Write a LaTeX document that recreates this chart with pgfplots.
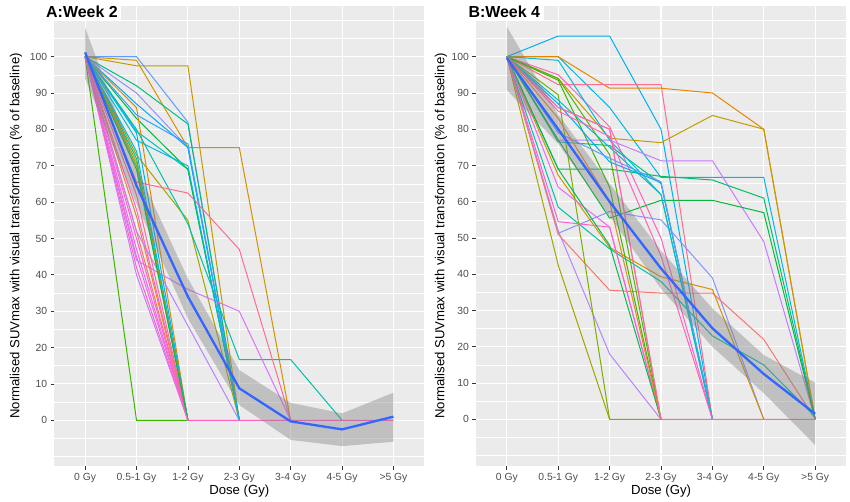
\documentclass[border=0pt]{standalone}
\usepackage{fontspec}
\setmainfont{Liberation Sans}
\usepackage{pgfplots}
\pgfplotsset{compat=1.18}
\definecolor{bgg}{HTML}{EBEBEB}
\definecolor{tickc}{HTML}{333333}
\definecolor{labc}{HTML}{4D4D4D}
\definecolor{smo}{HTML}{3366FF}
\definecolor{cA}{HTML}{F8766D}
\definecolor{cB}{HTML}{E58700}
\definecolor{cB2}{HTML}{EA8331}
\definecolor{cC}{HTML}{C49A00}
\definecolor{cC2}{HTML}{D39200}
\definecolor{cD}{HTML}{A3A500}
\definecolor{cD2}{HTML}{AEA200}
\definecolor{cE}{HTML}{7CAE00}
\definecolor{cE2}{HTML}{53B400}
\definecolor{cF}{HTML}{39B600}
\definecolor{cG}{HTML}{00BA38}
\definecolor{cG2}{HTML}{00BB4E}
\definecolor{cH}{HTML}{00BE67}
\definecolor{cI}{HTML}{00BF7D}
\definecolor{cJ}{HTML}{00C08B}
\definecolor{cK}{HTML}{00C1A3}
\definecolor{cL}{HTML}{00BFC4}
\definecolor{cM}{HTML}{00BCD8}
\definecolor{cN}{HTML}{00B8E7}
\definecolor{cO}{HTML}{00B0F6}
\definecolor{cP}{HTML}{00A9FF}
\definecolor{cP2}{HTML}{35A2FF}
\definecolor{cQ}{HTML}{619CFF}
\definecolor{cR}{HTML}{8494FF}
\definecolor{cR2}{HTML}{9590FF}
\definecolor{cS}{HTML}{B983FF}
\definecolor{cT}{HTML}{C77CFF}
\definecolor{cU}{HTML}{DB72FB}
\definecolor{cV}{HTML}{E76BF3}
\definecolor{cW}{HTML}{F564E3}
\definecolor{cX}{HTML}{FD61D1}
\definecolor{cY}{HTML}{FF61C3}
\definecolor{cY2}{HTML}{FF62BC}
\definecolor{cZ}{HTML}{FF6A98}
\definecolor{cZ2}{HTML}{FF6C91}
\pgfplotsset{
  spag/.style={line width=1bp},
  panel/.style={
    scale only axis, width=370bp, height=460.3bp, anchor=south west,
    xmin=-0.6, xmax=6.6,
    axis background/.style={fill=bgg},
    axis line style={draw=none},
    xtick={0,...,6},
    xticklabels={0 Gy,0.5-1 Gy,1-2 Gy,2-3 Gy,3-4 Gy,4-5 Gy,>5 Gy},
    ytick={0,10,...,100},
    minor ytick={-5,5,...,105},
    extra y ticks={-10,110}, extra y tick labels={},
    extra y tick style={grid=major, major tick length=0pt},
    xmajorgrids, ymajorgrids, yminorgrids,
    major grid style={white, line width=1.07bp},
    minor grid style={white, line width=0.53bp},
    tick style={color=tickc, line width=0.8bp},
    major tick length=3.7bp, minor tick length=0pt,
    tick align=outside, xtick pos=bottom, ytick pos=left,
    ticklabel style={font=\fontsize{10.4}{11}\selectfont, text=labc},
    /pgf/number format/assume math mode=true,
    xlabel={Dose (Gy)},
    ylabel={Normalised SUVmax with visual transformation (\% of baseline)},
    label style={font=\fontsize{13.2}{14}\selectfont, text=black},
  }
}
\begin{document}
\begin{tikzpicture}[x=1bp,y=1bp]
\useasboundingbox (0,0) rectangle (850,502);
% ---------------- Panel A ----------------
\begin{axis}[panel, at={(54.3bp,36bp)}, ymin=-12.57, ymax=114.03,
  xlabel style={at={(axis description cs:0.5,-0.0543)}, anchor=center},
  ylabel style={at={(axis description cs:-0.1035,0.5)}, anchor=center}]
\addplot[spag,cQ] coordinates {(0,100)(1,100)(2,82)(3,0)};
\addplot[spag,cC] coordinates {(0,100)(1,97.5)(2,97.5)(3,0)};
\addplot[spag,cC2] coordinates {(0,100)(1,99)(2,75)(3,75)(4,0)};
\addplot[spag,cI] coordinates {(0,100)(1,92)(2,81.5)(3,0)};
\addplot[spag,cR2] coordinates {(0,100)(1,90)(2,75)(3,0)};
\addplot[spag,cP] coordinates {(0,100)(1,87)(2,75)(3,0)};
\addplot[spag,cL] coordinates {(0,100)(1,79.5)(2,69)(3,0)};
\addplot[spag,cG] coordinates {(0,100)(1,83)(2,69)(3,0)};
\addplot[spag,cB] coordinates {(0,100)(1,86)(2,0)};
\addplot[spag,cD] coordinates {(0,100)(1,73)(2,55)(3,0)};
\addplot[spag,cK] coordinates {(0,100)(1,80)(2,54)(3,16.7)(4,16.7)(5,0)};
\addplot[spag,cZ2] coordinates {(0,100)(1,65.5)(2,62.5)(3,47)(4,0)};
\addplot[spag,cU] coordinates {(0,100)(1,44)(2,36)(3,30)(4,0)};
\addplot[spag,cF] coordinates {(0,100)(1,0)(2,0)};
\addplot[spag,cV] coordinates {(0,100)(1,45)(2,0)};
\addplot[spag,cW] coordinates {(0,100)(1,47)(2,0)};
\addplot[spag,cA] coordinates {(0,100)(1,52)(2,0)};
\addplot[spag,cB2] coordinates {(0,100)(1,56)(2,0)};
\addplot[spag,cS] coordinates {(0,100)(1,52)(2,26)(3,0)};
\addplot[spag,cO] coordinates {(0,100)(1,79)(2,0)};
\addplot[spag,cE] coordinates {(0,100)(1,70)(2,0)};
\addplot[spag,cZ] coordinates {(0,100)(1,62)(2,0)};
\addplot[spag,cJ] coordinates {(0,100)(1,72)(2,0)};
\addplot[spag,cN] coordinates {(0,100)(1,74)(2,0)};
\addplot[spag,cY2] coordinates {(0,100)(1,58)(2,0)};
\addplot[spag,cT] coordinates {(0,100)(1,40)(2,0)};
\addplot[spag,cP2] coordinates {(0,100)(1,84)(2,76)(3,0)};
\addplot[spag,cM] coordinates {(0,100)(1,77)(2,70)(3,0)};
\addplot[spag,cX] coordinates {(0,100)(1,50)(2,0)};
\addplot[spag,cD2] coordinates {(0,100)(1,71)(2,0)};
\addplot[spag,cG2] coordinates {(0,100)(1,69)(2,0)};
\addplot[spag,cY] coordinates {(0,100)(1,42)(2,0)(3,0)(4,0)(5,0)(6,0)};
% confidence band
\addplot[draw=none, fill=gray, fill opacity=0.4] coordinates {
 (0,108)(1,69.5)(2,39)(3,13.8)(4,4.8)(5,1.9)(6,7.6)
 (6,-5.9)(5,-7.1)(4,-5.4)(3,4.2)(2,28)(1,59.5)(0,94)} -- cycle;
\addplot[smo, line width=2.3bp] coordinates {(0,101.2)(1,64.5)(2,34)(3,8.8)(4,-0.3)(5,-2.5)(6,1)};
\end{axis}
% ---------------- Panel B ----------------
\begin{axis}[panel, at={(476bp,36bp)}, ymin=-12.88, ymax=114.07,
  xlabel style={at={(axis description cs:0.5,-0.0543)}, anchor=center},
  ylabel style={at={(axis description cs:-0.095,0.5)}, anchor=center}]
\addplot[spag,cO] coordinates {(0,100)(1,105.7)(2,105.7)(3,80)(4,0)};
\addplot[spag,cN] coordinates {(0,100)(1,100)(2,86)(3,66.7)(4,66.7)(5,66.7)(6,0)};
\addplot[spag,cB] coordinates {(0,100)(1,100)(2,91.3)(3,91.3)(4,90)(5,80)(6,0)};
\addplot[spag,cC] coordinates {(0,100)(1,94)(2,77.5)(3,76.3)(4,83.8)(5,80)(6,0)};
\addplot[spag,cZ2] coordinates {(0,100)(1,92.3)(2,92.3)(3,92.3)(4,0)};
\addplot[spag,cY] coordinates {(0,100)(1,95)(2,80.7)(3,50)(4,0)};
\addplot[spag,cW] coordinates {(0,100)(1,86)(2,80)(3,0)};
\addplot[spag,cT] coordinates {(0,100)(1,77)(2,77)(3,71.3)(4,71.3)(5,49)(6,0)};
\addplot[spag,cH] coordinates {(0,100)(1,69)(2,69)(3,67)(4,66)(5,61)(6,0)};
\addplot[spag,cJ] coordinates {(0,100)(1,76.5)(2,75.5)(3,65)(4,0)};
\addplot[spag,cG] coordinates {(0,100)(1,77)(2,55.5)(3,60.4)(4,60.4)(5,57)(6,0)};
\addplot[spag,cR] coordinates {(0,100)(1,51.3)(2,57.3)(3,55)(4,39)(5,0)};
\addplot[spag,cD] coordinates {(0,100)(1,42.5)(2,0)};
\addplot[spag,cS] coordinates {(0,100)(1,52)(2,18)(3,0)};
\addplot[spag,cA] coordinates {(0,100)(1,51)(2,35.6)(3,34.8)(4,34.8)(5,22)(6,0)};
\addplot[spag,cC2] coordinates {(0,100)(1,67.3)(2,47.4)(3,39.3)(4,35.8)(5,0)};
\addplot[spag,cK] coordinates {(0,100)(1,58.5)(2,47)(3,38)(4,23)(5,15)(6,0.7)};
\addplot[spag,cE] coordinates {(0,100)(1,89.5)(2,0)(3,0)};
\addplot[spag,cE2] coordinates {(0,100)(1,94)(2,73)(3,0)};
\addplot[spag,cF] coordinates {(0,100)(1,93.5)(2,64)(3,0)};
\addplot[spag,cV] coordinates {(0,100)(1,64)(2,53)(3,0)};
\addplot[spag,cX] coordinates {(0,100)(1,54.5)(2,53)(3,0)};
\addplot[spag,cP] coordinates {(0,100)(1,87)(2,71)(3,65.3)(4,0)};
\addplot[spag,cM] coordinates {(0,100)(1,99)(2,77)(3,62)(4,0)};
\addplot[spag,cQ] coordinates {(0,100)(1,79)(2,72)(3,65.5)(4,0)};
\addplot[spag,cL] coordinates {(0,100)(1,88)(2,75)(3,62)(4,0)};
\addplot[spag,cY2] coordinates {(0,100)(1,85)(2,78)(3,45)(4,0)};
\addplot[spag,cG2] coordinates {(0,100)(1,69)(2,48)(3,0)};
\addplot[spag,cB2] coordinates {(0,100)(1,83)(2,60)(3,0)};
\addplot[spag,cZ] coordinates {(0,100)(1,86)(2,80)(3,0)(4,0)(5,0)(6,0)};
% confidence band
\addplot[draw=none, fill=gray, fill opacity=0.4] coordinates {
 (0,108.3)(1,84)(2,65)(3,46.5)(4,30.6)(5,17.7)(6,10.1)
 (6,-7.1)(5,7.2)(4,20)(3,36)(2,56)(1,76)(0,90.8)} -- cycle;
\addplot[smo, line width=2.3bp] coordinates {(0,99.6)(1,80)(2,60)(3,41.6)(4,25.1)(5,12.5)(6,1.5)};
\end{axis}
% titles
\fill[white] (44,481.3) rectangle (121,502);
\node[anchor=base west, inner sep=0pt, font=\fontsize{16}{18}\selectfont\bfseries] at (46,484) {A:Week 2};
\fill[white] (466,481.3) rectangle (544,502);
\node[anchor=base west, inner sep=0pt, font=\fontsize{16}{18}\selectfont\bfseries] at (468.3,484) {B:Week 4};
\end{tikzpicture}
\end{document}
